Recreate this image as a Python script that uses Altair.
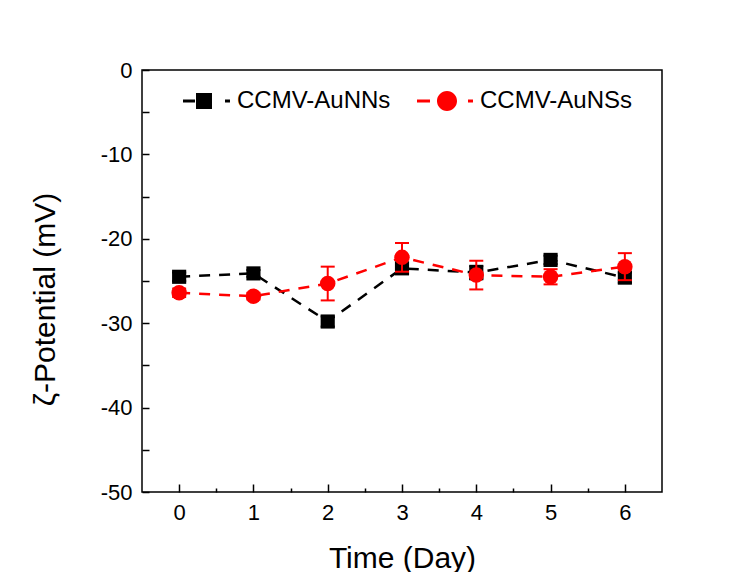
import altair as alt
import pandas as pd

# ---- data ----
days = [0, 1, 2, 3, 4, 5, 6]
aunns = [-24.5, -24.1, -29.8, -23.5, -24.0, -22.5, -24.6]
aunns_err = [0.5, 0.4, 0.6, 0.6, 0.8, 0.5, 0.6]
ausns = [-26.4, -26.8, -25.3, -22.2, -24.3, -24.5, -23.3]
ausns_err = [0.5, 0.4, 2.0, 1.7, 1.7, 0.9, 1.6]
series = ["CCMV-AuNNs", "CCMV-AuNSs"]
colors = ["#000000", "#ff0000"]
x_major = [0, 1, 2, 3, 4, 5, 6]
x_minor = [0.5, 1.5, 2.5, 3.5, 4.5, 5.5]
y_major = [-50, -40, -30, -20, -10, 0]
y_minor = [-45, -35, -25, -15, -5]

W, H = 520, 422
FONT = "Liberation Sans"

rows = []
for d, v, e in zip(days, aunns, aunns_err):
    rows.append({"day": d, "val": v, "err": e, "series": series[0]})
for d, v, e in zip(days, ausns, ausns_err):
    rows.append({"day": d, "val": v, "err": e, "series": series[1]})
df = pd.DataFrame(rows)

xs = alt.Scale(domain=[-0.5, 6.5], nice=False, zero=False)
ys = alt.Scale(domain=[-50, 0], nice=False, zero=False)

base = alt.Chart(df).transform_calculate(
    lo="datum.val - datum.err", hi="datum.val + datum.err"
)

def xenc(axis=None):
    return alt.X("day:Q", scale=xs, axis=axis)

def yenc(field="val", axis=None):
    return alt.Y(f"{field}:Q", scale=ys, axis=axis)

main_x_axis = alt.Axis(orient="bottom", values=x_major, ticks=False, domain=False, grid=False,
                       labelFont=FONT, labelFontSize=22, labelColor="black", labelPadding=10,
                       labelExpr="'' + datum.value",
                       title="Time (Day)", titleFont=FONT, titleFontSize=30, titleFontWeight="normal",
                       titleColor="black", titleY=75, titleBaseline="alphabetic")
main_y_axis = alt.Axis(orient="left", values=y_major, ticks=False, domain=False, grid=False,
                       labelFont=FONT, labelFontSize=22, labelColor="black", labelPadding=10,
                       labelExpr="'' + datum.value",
                       title="ζ-Potential (mV)", titleFont=FONT, titleFontSize=30,
                       titleFontWeight="normal", titleColor="black", titleAngle=270,
                       titleX=-97, titleY=229, titleAlign="center", titleBaseline="middle")

def tick_axis_x(vals, size):
    return alt.Axis(orient="top", offset=-H, values=vals, ticks=True, tickSize=size, tickWidth=1.5,
                    tickColor="black", labels=False, domain=False, grid=False, title=None)

def tick_axis_y(vals, size):
    return alt.Axis(orient="right", offset=-W, values=vals, ticks=True, tickSize=size, tickWidth=1.5,
                    tickColor="black", labels=False, domain=False, grid=False, title=None)

layers = []
markers = {series[0]: ("square", 200), series[1]: ("circle", 240)}
for i, (s, c) in enumerate(zip(series, colors)):
    b = base.transform_filter(alt.datum.series == s)
    line = b.mark_line(color=c, strokeWidth=2.5, strokeDash=[11, 9]).encode(
        x=xenc(main_x_axis if i == 0 else None),
        y=yenc(axis=main_y_axis if i == 0 else None),
    )
    rule = b.mark_rule(color=c, strokeWidth=2).encode(
        x=xenc(), y=yenc("lo"), y2="hi:Q"
    )
    cap_lo = b.mark_tick(color=c, orient="horizontal", size=14, thickness=2, opacity=1).encode(
        x=xenc(), y=yenc("lo")
    )
    cap_hi = b.mark_tick(color=c, orient="horizontal", size=14, thickness=2, opacity=1).encode(
        x=xenc(), y=yenc("hi")
    )
    shp, sz = markers[s]
    pts = b.mark_point(shape=shp, size=sz, filled=True, color=c, opacity=1).encode(
        x=xenc(tick_axis_x(x_major, 8) if i == 0 else tick_axis_x(x_minor, 4)),
        y=yenc(axis=tick_axis_y(y_major, 7) if i == 0 else tick_axis_y(y_minor, 7)),
    )
    layers += [line, rule, cap_lo, cap_hi, pts]

# legend symbols: dash + marker + dash, drawn as one filled path (unit = 24 px)
path_black = ("M-0.875,-0.06H-0.375V0.06H-0.875Z "
              "M-0.333,-0.333H0.333V0.333H-0.333Z "
              "M0.875,-0.06H1.083V0.06H0.875Z")
path_red = ("M-1.25,-0.06H-0.708V0.06H-1.25Z "
            "M-0.417,0A0.417,0.417 0 1,0 0.417,0A0.417,0.417 0 1,0 -0.417,0Z "
            "M0.875,-0.06H1.083V0.06H0.875Z")

leg = alt.Legend(orient="none", legendX=38, legendY=7, direction="horizontal", title=None,
                 labelFont=FONT, labelFontSize=24, labelColor="black", labelLimit=400,
                 symbolSize=2304, symbolStrokeWidth=0, labelOffset=9, columnPadding=26,
                 padding=0, symbolOpacity=1)
legend_layer = base.transform_filter("false").mark_point(filled=True, opacity=1).encode(
    x=xenc(), y=yenc(),
    color=alt.Color("series:N", scale=alt.Scale(domain=series, range=colors), legend=leg),
    shape=alt.Shape("series:N", scale=alt.Scale(domain=series, range=[path_black, path_red]), legend=leg),
)
layers.append(legend_layer)

chart = alt.layer(*layers).resolve_axis(x="independent", y="independent").properties(
    width=W, height=H,
    autosize=alt.AutoSizeParams(type="none"),
    padding={"left": 134, "top": 62, "right": 80, "bottom": 80},
    background="white",
).configure_view(stroke="black", strokeWidth=1.5)

chart.save("out.html", embed_options={"renderer": "svg", "actions": False})
